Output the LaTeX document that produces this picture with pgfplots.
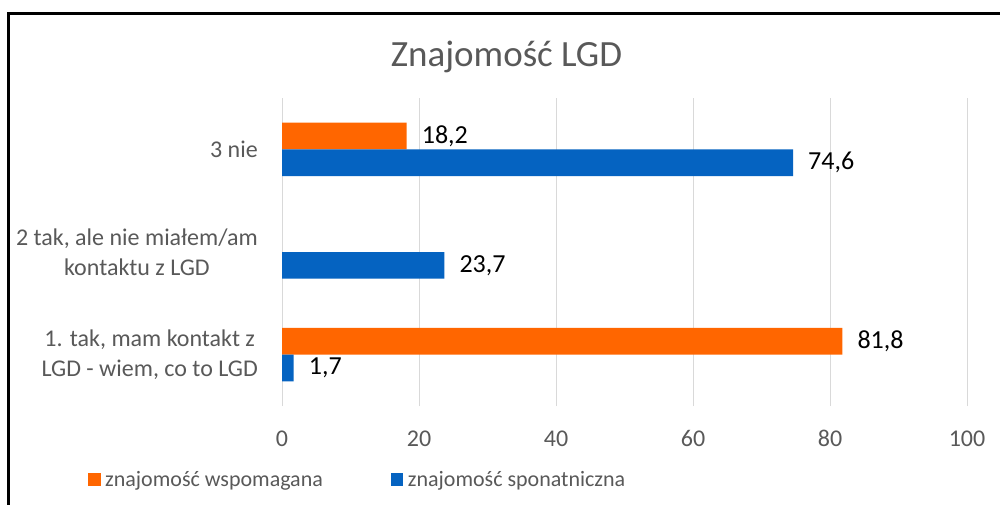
\documentclass[border=0pt]{standalone}
\usepackage{fontspec}
\setmainfont{Carlito}
\usepackage{pgfplots}
\pgfplotsset{compat=1.18}
\definecolor{cOrange}{HTML}{FF6600}
\definecolor{cBlue}{HTML}{0563C1}
\definecolor{cGrey}{HTML}{595959}
\definecolor{cGrid}{HTML}{D9D9D9}
\begin{document}
\begin{tikzpicture}
\fill[white] (0,0) rectangle (1000pt,504pt);
\begin{axis}[
  at={(282pt,98pt)}, anchor=south west,
  scale only axis, width=685pt, height=308pt,
  xbar, bar width=0.26,
  xmin=0, xmax=100, ymin=0.5, ymax=3.5,
  xtick={0,20,40,60,80,100},
  ytick={1,2,3},
  yticklabels={{1. tak, mam kontakt z\\LGD - wiem, co to LGD},{2 tak, ale nie miałem/am\\kontaktu z LGD},{3 nie}},
  axis line style={draw=none},
  major tick length=0pt,
  tick style={draw=none},
  xmajorgrids, grid style={cGrid, line width=1pt},
  /pgf/number format/assume math mode=true,
  xticklabel style={font=\fontsize{24}{24}\selectfont, text=cGrey, anchor=base, inner sep=0pt, yshift=-40pt},
  yticklabel style={font=\fontsize{24}{30}\selectfont, text=cGrey, align=center, anchor=east, inner sep=0pt, xshift=-24pt},
  nodes near coords,
  point meta=x,
  nodes near coords style={font=\fontsize{26}{26}\selectfont, text=black, anchor=west, inner sep=0pt, xshift=15pt,
    /pgf/number format/.cd, use comma, fixed, fixed zerofill, precision=1, assume math mode=true},
  legend columns=2,
  legend style={draw=none, fill=none, inner sep=0pt, at={(-0.2832,-0.2386)}, anchor=west,
    font=\fontsize{22}{22}\selectfont, text=cGrey,
    nodes={inner sep=0pt},
    /tikz/every odd column/.append style={column sep=4.5pt},
    /tikz/every even column/.append style={column sep=68pt}},
  legend image code/.code={\fill[#1] (0pt,-6.5pt) rectangle (12.5pt,6.5pt);},
]
\addplot[fill=cOrange, draw=none, bar shift=0.13] coordinates {(81.8,1) (18.2,3)};
\addlegendentry{znajomość wspomagana}
\addplot[fill=cBlue, draw=none, bar shift=-0.13] coordinates {(1.7,1) (23.7,2) (74.6,3)};
\addlegendentry{znajomość sponatniczna}
\end{axis}
\node[anchor=base, text=cGrey, font=\fontsize{37}{37}\selectfont, inner sep=0pt] at (506.5pt,437pt) {Znajomość LGD};
\draw[line width=2.7pt, line cap=rect] (8.5pt,0pt) -- (8.5pt,490.5pt) -- (1000pt,490.5pt);
\pgfresetboundingbox
\useasboundingbox (0,0) rectangle (1000pt,504pt);
\end{tikzpicture}
\end{document}
